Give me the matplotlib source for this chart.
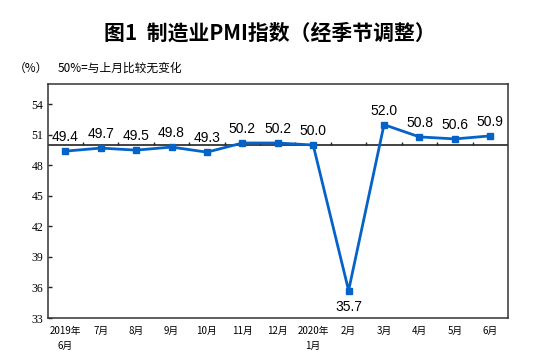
import matplotlib
matplotlib.use("Agg")
import matplotlib.pyplot as plt

plt.rcParams['font.family'] = ['Noto Sans CJK SC', 'DejaVu Sans']

months = ["2019年\n6月", "7月", "8月", "9月", "10月", "11月", "12月",
          "2020年\n1月", "2月", "3月", "4月", "5月", "6月"]
pmi = [49.4, 49.7, 49.5, 49.8, 49.3, 50.2, 50.2, 50.0, 35.7, 52.0, 50.8, 50.6, 50.9]
yticks = [33, 36, 39, 42, 45, 48, 51, 54]
baseline = 50

fig = plt.figure(figsize=(5.53, 3.62), dpi=100)
ax = fig.add_axes([0.086, 0.1215, 0.8326, 0.6465])

x = list(range(len(pmi)))
color = '#0563C8'
ax.plot(x, pmi, color=color, lw=2, marker='s', ms=4.5, zorder=3)

ax.axhline(baseline, color='#222222', lw=1.2, zorder=2)
# tick marks on the baseline between categories
ax.vlines([i + 0.5 for i in x[:-1]], baseline, baseline + 0.3, color='#222222', lw=1, zorder=2)

for xi, v in zip(x, pmi):
    if v < 40:
        ax.annotate(f"{v:.1f}", (xi, v), xytext=(0, -7), textcoords='offset points',
                    ha='center', va='top', fontsize=10, family='Liberation Sans')
    else:
        ax.annotate(f"{v:.1f}", (xi, v), xytext=(0, 5), textcoords='offset points',
                    ha='center', va='bottom', fontsize=10, family='Liberation Sans')

ax.set_xlim(-0.5, len(pmi) - 0.5)
ax.set_ylim(33, 56)
ax.set_yticks(yticks)
ax.set_yticklabels([str(t) for t in yticks], family='Liberation Serif', fontsize=8.5)
ax.tick_params(axis='y', direction='in', length=3, width=1, pad=3, color='#222222')
ax.set_xticks(x)
ax.set_xticklabels(months, fontsize=7, linespacing=1.6)
ax.tick_params(axis='x', length=0, pad=6)
for s in ax.spines.values():
    s.set_color('#333333')
    s.set_linewidth(1.1)

fig.text(0.488, 0.91, "图1  制造业PMI指数（经季节调整）", ha='center', va='center',
         fontsize=15, fontweight='bold')
fig.text(0.025, 0.812, "（%）", ha='left', va='center', fontsize=8.5)
fig.text(0.105, 0.812, "50%=与上月比较无变化", ha='left', va='center', fontsize=8.5)

fig.savefig("out.png", dpi=100)
